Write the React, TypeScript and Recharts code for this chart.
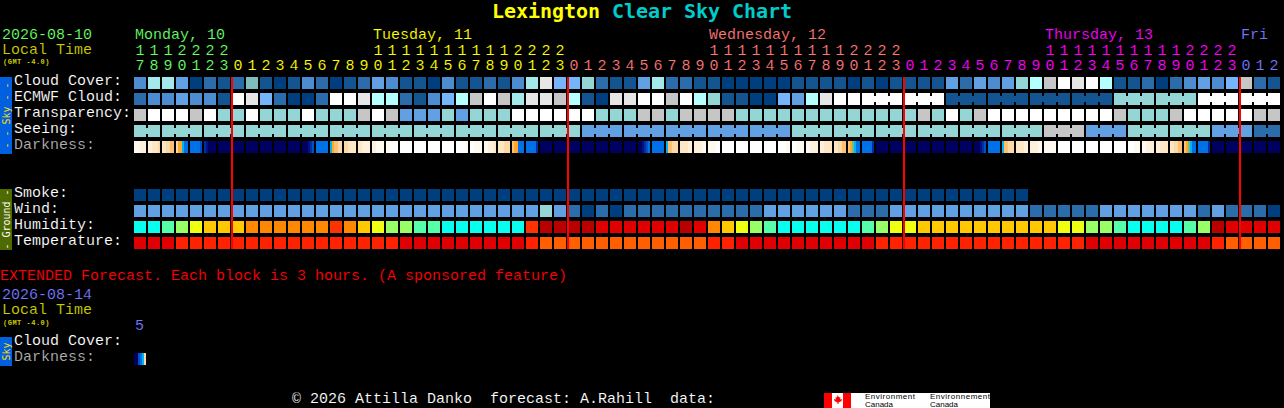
import React from "react";
import {
  ScatterChart,
  Scatter,
  XAxis,
  YAxis,
} from "recharts";

const FONT = "'Liberation Mono', monospace";
const TITLE_FONT = "'DejaVu Sans Mono', monospace";
// black hairline over the glyphs, the original bitmap font is thinner than anything installed
const THIN = { stroke: "#000000", strokeWidth: 0.12 };

// hours across the top, col 0 is 17:00 on monday
const HOURS = [
  17, 18, 19, 20, 21, 22, 23,
  0, 1, 2, 3, 4, 5, 6, 7, 8, 9, 10, 11, 12, 13, 14, 15, 16, 17, 18, 19, 20, 21, 22, 23,
  0, 1, 2, 3, 4, 5, 6, 7, 8, 9, 10, 11, 12, 13, 14, 15, 16, 17, 18, 19, 20, 21, 22, 23,
  0, 1, 2, 3, 4, 5, 6, 7, 8, 9, 10, 11, 12, 13, 14, 15, 16, 17, 18, 19, 20, 21, 22, 23,
  0, 1, 2,
];
const DAY_NAMES = ["Monday, 10", "Tuesday, 11", "Wednesday, 12", "Thursday, 13", "Fri"];
const DAY_NAME_COLS = [0, 17, 41, 65, 79];
const DAY_START_COLS = [0, 7, 31, 55, 79];
const DAY_COLORS = ["#66ff66", "#ffff00", "#ff7777", "#ff00ff", "#7777ff"];
const MIDNIGHTS = [6.57, 30.57, 54.57, 78.57];

const SKY_COLORS = [
  "#003f7f", "#125590", "#2b6cab", "#4b8dd0", "#61a0e2", "#75b5fb", "#7fbcbc",
  "#94d5d5", "#a4e9e9", "#b4ffff", "#c6c6c6", "#e6e6e6", "#ffffff",
];
const HUMIDITY_COLORS = [
  "#08ffee", "#55ffaa", "#99ff66", "#eeff11", "#ffc800", "#ff8800", "#ff3300", "#e00000", "#b80000",
];
const TEMP_COLORS = ["#ff5f00", "#ff2200", "#e00000"];
const DARK_COLORS = [
  "#ffffff", "#fff9f0", "#fff0dc", "#ffe6c4", "#ffd9a4", "#ffc070", "#ffa82c", "#00b4f0",
  "#0070e8", "#0050c8", "#0030a0", "#001088", "#000060", "#66c090",
];

const CLOUD = [
  3, 8, 8, 4, 0, 2, 1, 2, 6, 1, 0, 1, 3, 2, 0, 1, 2, 4, 3, 1, 1,
  0, 3, 1, 1, 2, 1, 3, 8, 11, 5, 5, 7, 2, 1, 1, 4, 8, 2, 2, 1, 1,
  0, 0, 0, 0, 0, 1, 1, 1, 1, 0, 1, 0, 1, 1, 1, 1, 4, 2, 4, 3, 4,
  7, 9, 10, 12, 11, 12, 9, 1, 1, 2, 0, 2, 3, 4, 3, 5, 10, 2, 1,
];
const ECMWF = [
  2, 3, 3, 4, 3, 3, 1, 12, 11, 5, 2, 0, 0, 2, 12, 12, 11, 9, 9, 2, 1,
  3, 5, 9, 10, 12, 10, 8, 11, 11, 10, 9, 1, 0, 11, 11, 12, 12, 10, 12, 9, 7,
  1, 1, 0, 0, 5, 4, 9, 11, 12, 12,
  12, 12, 12, 12, 12, 12, 1, 1, 1, 1, 1, 1, 1, 1, 1, 1, 1, 1,
  7, 7, 7, 7, 7, 7, 12, 12, 12, 12, 12, 12,
];
const TRANSPARENCY = [
  10, 12, 12, 12, 10, 12, 7, 7, 12, 7, 7, 7, 12, 7, 7, 7, 10, 12, 10, 4, 4,
  4, 7, 4, 7, 7, 7, 12, 12, 12, 12, 12, 12, 7, 7, 7, 10, 10, 7, 10, 10, 10,
  10, 7, 7, 7, 7, 7, 7, 7, 7, 7, 7, 7, 7, 7, 10, 7, 12, 7, 10,
  12, 12, 12, 12, 12, 12, 12, 12, 12, 10, 7, 7, 7, 10, 12, 12, 12, 12, 12, 10, 10,
];
const SEEING = [
  7, 7, 7, 7, 7, 7, 7, 7, 7, 7, 7, 7, 7, 7, 7, 7, 7, 7, 7, 7, 7,
  7, 7, 7, 7, 7, 7, 7, 7, 7, 7, 7, 4, 4, 4, 4, 4, 4, 4, 4, 4, 4,
  4, 4, 4, 4, 4, 7, 7, 7, 7, 7, 7, 7, 7, 7, 7, 7, 7, 7, 7,
  7, 7, 7, 7, 10, 10, 10, 4, 4, 4, 7, 7, 7, 7, 7, 7, 4, 4, 4, 2, 2,
];
const DARKNESS = (
  "111222 223334 334455 466788 888889 abcccc cccccc cccccc cccccc cccccc cccccc cccccc " +
  "cccba9 888888 765544 443333 332222 221111 110000 000000 000000 000000 000000 000001 " +
  "001111 112223 333444 566888 88888a cccccc cccccc cccccc cccccc cccccc cccccc cccccc " +
  "ccba98 888888 755444 333322 222211 111100 000000 000000 000000 000000 000011 001111 " +
  "112222 223333 334455 56d788 88888a cccccc cccccc cccccc cccccc cccccc cccccc cccccc " +
  "cccba9 888888 755444 333322 222211 111111 000000 000000 000000 000000 000000 000111 " +
  "112222 223333 334455 56d788 88888a cccccc cccccc cccccc cccccc cccccc"
).split(" ");
const SMOKE = [
  0, 0, 0, 0, 0, 0, 0, 0, 0, 0, 0, 0, 0, 0, 0, 0, 0, 0, 0, 0, 0,
  0, 0, 0, 0, 0, 0, 0, 0, 0, 0, 0, 0, 0, 0, 0, 0, 0, 0, 0, 0, 0,
  0, 0, 0, 0, 0, 0, 0, 0, 0, 0, 0, 0, 0, 0, 0, 0, 0, 0, 0, 0, 0, 0,
];
const WIND = [
  4, 4, 4, 4, 4, 4, 4, 4, 4, 4, 4, 4, 4, 4, 4, 4, 4, 4, 4, 4, 4,
  4, 4, 4, 4, 4, 4, 4, 4, 7, 4, 2, 0, 2, 0, 2, 2, 2, 2, 2, 2, 2,
  2, 2, 2, 4, 4, 4, 4, 4, 4, 2, 2, 2, 4, 4, 4, 4, 4, 4, 4, 4, 4, 4,
  2, 2, 2, 2, 2, 4, 4, 4, 4, 4, 4, 4, 2, 4, 2, 2, 2, 0,
];
const HUMIDITY = [
  0, 0, 1, 2, 3, 4, 4, 4, 5, 5, 5, 5, 5, 5, 6, 5, 4, 3, 2, 2, 1,
  1, 0, 0, 0, 0, 0, 0, 6, 8, 8, 8, 8, 7, 7, 7, 7, 7, 7, 8, 7, 5,
  4, 3, 2, 1, 0, 0, 0, 0, 0, 0, 1, 2, 3, 3, 4, 4, 4, 4, 4, 4, 4, 4,
  4, 4, 3, 3, 2, 2, 1, 0, 0, 0, 0, 1, 2, 8, 7, 7, 7, 7,
];
const TEMPERATURE = [
  2, 2, 2, 1, 1, 1, 1, 1, 1, 1, 1, 1, 1, 1, 1, 1, 1, 1, 1, 2, 2,
  2, 2, 2, 2, 2, 2, 2, 1, 0, 0, 0, 0, 0, 0, 0, 0, 0, 0, 0, 0, 1,
  1, 2, 2, 2, 2, 2, 2, 2, 2, 2, 2, 1, 1, 1, 1, 1, 1, 1, 1, 1, 1, 1,
  1, 1, 1, 1, 2, 2, 2, 2, 2, 2, 2, 2, 2, 1, 0, 0, 0, 0,
];
const EXT_DARKNESS = ["cc9874"];

const ROW_TICKS = [0, 1, 2, 3, 4, 7, 8, 9, 10, 16.25, 17.25];
const ROW_LABELS = [
  "Cloud Cover:", "ECMWF Cloud:", "Transparency:", "Seeing:", "Darkness:",
  "Smoke:", "Wind:", "Humidity:", "Temperature:", "Cloud Cover:", "Darkness:",
];

const COL_TICKS = HOURS.map((_, i) => i);

const toPoints = (values: any[], row: number, linked?: (i: number) => boolean) =>
  values.map((value, i) => ({ col: i, row, value, linked: linked ? linked(i) : false }));

const seeingLinked = (i: number) => i < 81 && i % 3 !== 1;
const ecmwfLinked = (i: number) => i >= 52 && i < 81 && i % 3 !== 0;

const colorCell = (colors: string[]) => (props: any) => {
  const { cx, cy, payload } = props;
  const fill = colors[payload.value];
  return (
    <g>
      <rect x={cx - 6} y={cy - 6} width={12} height={12} fill={fill} />
      {payload.linked && <rect x={cx + 6} y={cy - 3} width={2} height={6} fill={fill} />}
    </g>
  );
};

const darkCell = (props: any) => {
  const { cx, cy, payload } = props;
  return (
    <g>
      {payload.value.split("").map((ch: string, k: number) => (
        <rect key={k} x={cx - 6 + k * 2} y={cy - 6} width={2} height={12} fill={DARK_COLORS[parseInt(ch, 16)]} />
      ))}
    </g>
  );
};

const dayOfCol = (col: number) => {
  let day = 0;
  DAY_START_COLS.forEach((start, d) => {
    if (col >= start) day = d;
  });
  return day;
};

const HourTick = ({ x, payload }: any) => {
  const col = payload.value;
  const hour = HOURS[col];
  const color = DAY_COLORS[dayOfCol(col)];
  const nameIdx = DAY_NAME_COLS.indexOf(col);
  return (
    <g fontFamily={FONT} fontSize={15} fill={color} textAnchor="middle" {...THIN}>
      {nameIdx >= 0 && (
        <text x={x - 5} y={39} textAnchor="start" fill={DAY_COLORS[nameIdx]}>
          {DAY_NAMES[nameIdx]}
        </text>
      )}
      {hour >= 10 && <text x={x} y={55}>{Math.floor(hour / 10)}</text>}
      <text x={x} y={70}>{hour % 10}</text>
    </g>
  );
};

const RowTick = ({ y, payload, index }: any) => {
  const label = ROW_LABELS[index];
  return (
    <text
      x={14}
      y={y + 2}
      fontFamily={FONT}
      fontSize={15}
      fill={label === "Darkness:" ? "#b0b0b0" : "#ffffff"}
      {...THIN}
    >
      {label}
    </text>
  );
};

const T = ({ x, y, fill, size = 15, spacing = 0, children, bold }: any) => (
  <text
    x={x}
    y={y}
    fill={fill}
    fontFamily={FONT}
    fontSize={size}
    letterSpacing={spacing}
    fontWeight={bold ? "bold" : "normal"}
    xmlSpace="preserve"
    {...(bold ? {} : THIN)}
  >
    {children}
  </text>
);

const SideTab = ({ y, height, fill, color, label }: any) => (
  <g>
    <rect x={0} y={y} width={12} height={height} fill={fill} />
    <text
      transform={`translate(9.5 ${y + height / 2}) rotate(-90)`}
      fill={color}
      fontFamily={TITLE_FONT}
      fontSize={10}
      textAnchor="middle"
      xmlSpace="preserve"
    >
      {label}
    </text>
  </g>
);

const Logo = () => (
  <g>
    <rect x={824} y={393} width={166} height={15} fill="#ffffff" />
    <rect x={824} y={393} width={8} height={15} fill="#ff0000" />
    <rect x={843} y={393} width={8} height={15} fill="#ff0000" />
    <path
      d="M837.5 395 l1.5 2.5 1.5 -0.5 -0.5 2.5 2 -0.5 -0.5 2 -3 1.5 0 1.5 -1 0 0 -1.5 -3 -1.5 -0.5 -2 2 0.5 -0.5 -2.5 1.5 0.5z"
      fill="#ff0000"
    />
    <text x={865} y={399} fontFamily="'Liberation Sans', sans-serif" fontSize={8} fill="#000000" textLength={50}>Environment</text>
    <text x={865} y={407} fontFamily="'Liberation Sans', sans-serif" fontSize={8} fill="#000000" textLength={28}>Canada</text>
    <text x={930} y={399} fontFamily="'Liberation Sans', sans-serif" fontSize={8} fill="#000000" textLength={60}>Environnement</text>
    <text x={930} y={407} fontFamily="'Liberation Sans', sans-serif" fontSize={8} fill="#000000" textLength={28}>Canada</text>
  </g>
);

export default function App() {
  return (
    <div style={{ position: "fixed", left: 0, top: 0, width: 1284, height: 408, background: "#000000" }}>
      <ScatterChart
        width={1284}
        height={408}
        margin={{ top: 43, right: 3, bottom: 5, left: 0 }}
      >
        <XAxis
          type="number"
          dataKey="col"
          orientation="top"
          domain={[-0.5, 81.5]}
          ticks={COL_TICKS}
          interval={0}
          height={32}
          axisLine={false}
          tickLine={false}
          tick={<HourTick />}
        />
        <YAxis
          type="number"
          dataKey="row"
          reversed
          domain={[-0.5, 20]}
          ticks={ROW_TICKS}
          interval={0}
          width={133}
          axisLine={false}
          tickLine={false}
          tick={<RowTick />}
        />
        <Scatter data={toPoints(CLOUD, 0)} shape={colorCell(SKY_COLORS)} isAnimationActive={false} />
        <Scatter data={toPoints(ECMWF, 1, ecmwfLinked)} shape={colorCell(SKY_COLORS)} isAnimationActive={false} />
        <Scatter data={toPoints(TRANSPARENCY, 2)} shape={colorCell(SKY_COLORS)} isAnimationActive={false} />
        <Scatter data={toPoints(SEEING, 3, seeingLinked)} shape={colorCell(SKY_COLORS)} isAnimationActive={false} />
        <Scatter data={toPoints(DARKNESS, 4)} shape={darkCell} isAnimationActive={false} />
        <Scatter data={toPoints(SMOKE, 7)} shape={colorCell(SKY_COLORS)} isAnimationActive={false} />
        <Scatter data={toPoints(WIND, 8)} shape={colorCell(SKY_COLORS)} isAnimationActive={false} />
        <Scatter data={toPoints(HUMIDITY, 9)} shape={colorCell(HUMIDITY_COLORS)} isAnimationActive={false} />
        <Scatter data={toPoints(TEMPERATURE, 10)} shape={colorCell(TEMP_COLORS)} isAnimationActive={false} />
        <Scatter data={toPoints(EXT_DARKNESS, 17.25)} shape={darkCell} isAnimationActive={false} />
        {/* day boundaries sit on top of the cells, so they have to come after the rows */}
        {MIDNIGHTS.map((x) => (
          <Scatter
            key={x}
            data={[{ col: x, row: -0.375 }, { col: x, row: 10.375 }]}
            line={{ stroke: "#ff0000", strokeWidth: 2 }}
            shape={() => <g />}
            isAnimationActive={false}
          />
        ))}

        <text x={492} y={18} fontFamily={TITLE_FONT} fontSize={20} fontWeight="bold" fill="#ffff00" xmlSpace="preserve">
          <tspan letterSpacing={-0.04}>Lexington </tspan>
          <tspan fill="#00cccc" letterSpacing={-0.04}>Clear Sky Chart</tspan>
        </text>
        <T x={2} y={39} fill="#66ff66">2026-08-10</T>
        <T x={2} y={54} fill="#cccc00">Local Time</T>
        <T x={3} y={64} fill="#cccc00" size={7} spacing={0.5} bold>(GMT -4.0)</T>
        <SideTab y={77} height={77} fill="#0060e0" color="#ffdd00" label="- - Sky - -" />
        <SideTab y={189} height={61} fill="#4f6a00" color="#ffffff" label="- Ground -" />
        <T x={0} y={280} fill="#ff0000">EXTENDED Forecast. Each block is 3 hours. (A sponsored feature)</T>
        <T x={2} y={299} fill="#7777ff">2026-08-14</T>
        <T x={2} y={314} fill="#cccc00">Local Time</T>
        <T x={3} y={325} fill="#cccc00" size={7} spacing={0.5} bold>(GMT -4.0)</T>
        <T x={135} y={330} fill="#7777ff">5</T>
        <SideTab y={337} height={29} fill="#0060e0" color="#ffdd00" label="Sky" />
        <T x={292} y={403} fill="#ffffff">© 2026 Attilla Danko  forecast: A.Rahill  data:</T>
        <Logo />
      </ScatterChart>
    </div>
  );
}
